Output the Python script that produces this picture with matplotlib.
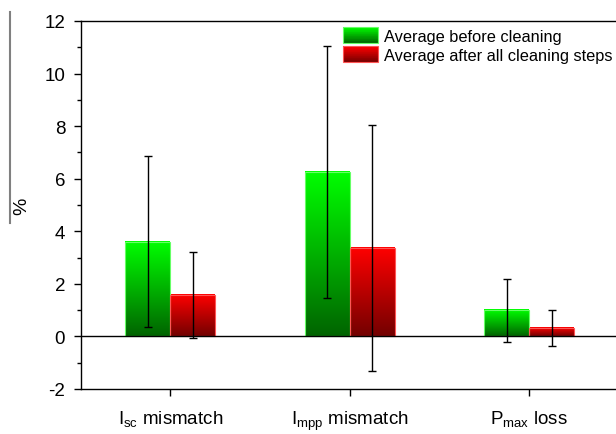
import matplotlib
matplotlib.use('Agg')
import matplotlib.pyplot as plt
import numpy as np
from matplotlib.lines import Line2D
from matplotlib.patches import Rectangle
from matplotlib.legend_handler import HandlerBase

plt.rcParams['font.family'] = ['Liberation Sans', 'DejaVu Sans']
plt.rcParams['mathtext.default'] = 'regular'
plt.rcParams['axes.unicode_minus'] = False

# data
categories = [r'I$_{sc}$ mismatch', r'I$_{mpp}$ mismatch', r'P$_{max}$ loss']
before = [3.61, 6.27, 1.00]
before_err = [3.26, 4.79, 1.20]
after = [1.57, 3.36, 0.32]
after_err = [1.64, 4.68, 0.70]
series_names = ['Average before cleaning', 'Average after all cleaning steps']

green_top, green_bot = np.array([0, 255, 0]) / 255, np.array([0, 100, 0]) / 255
red_top, red_bot = np.array([255, 0, 0]) / 255, np.array([115, 0, 0]) / 255


def grad_img(top, bot, n=100):
    t = np.linspace(0, 1, n)[:, None]
    col = top[None, :] * (1 - t) + bot[None, :] * t
    return col[:, None, :]


class GradHandler(HandlerBase):
    def __init__(self, top, bot, edge):
        super().__init__()
        self.top, self.bot, self.edge = top, bot, edge

    def create_artists(self, legend, orig_handle, xdescent, ydescent,
                       width, height, fontsize, trans):
        arts = []
        n = 24
        h = height / n
        for i in range(n):
            t = i / (n - 1)
            c = self.bot * (1 - t) + self.top * t
            arts.append(Rectangle((-xdescent, -ydescent + i * h), width, h * 1.05,
                                  facecolor=c, edgecolor='none', transform=trans))
        arts.append(Rectangle((-xdescent, -ydescent), width, height, facecolor='none',
                              edgecolor=self.edge, lw=0.8, transform=trans))
        return arts


fig = plt.figure(figsize=(6.16, 4.35), dpi=100)
ax = fig.add_axes([80.5 / 616, 45 / 435, 538.5 / 616, 368 / 435])

x = np.arange(1, len(categories) + 1)
w = 0.25
b1 = ax.bar(x - w / 2, before, w, facecolor='none', edgecolor='#66ff66', lw=0.8, zorder=3)
b2 = ax.bar(x + w / 2, after, w, facecolor='none', edgecolor='#ff5555', lw=0.8, zorder=3)

for bars, top, bot in [(b1, green_top, green_bot), (b2, red_top, red_bot)]:
    img = grad_img(top, bot)
    for p in bars.patches:
        x0, y0 = p.get_x(), p.get_y()
        ax.imshow(img, extent=[x0, x0 + p.get_width(), y0, y0 + p.get_height()],
                  aspect='auto', interpolation='bilinear', zorder=2)

ax.errorbar(x - w / 2, before, yerr=before_err, fmt='none', ecolor='k',
            elinewidth=1, capsize=3, capthick=1, zorder=4)
ax.errorbar(x + w / 2, after, yerr=after_err, fmt='none', ecolor='k',
            elinewidth=1, capsize=3, capthick=1, zorder=4)

ax.axhline(0, color='k', lw=1, zorder=5)

ax.set_xlim(0.5, 3.5)
ax.set_ylim(-2, 12)
ax.set_yticks(np.arange(-2, 13, 2))
ax.set_yticks(np.arange(-1, 12, 2), minor=True)
ax.set_xticks(x)
ax.set_xticklabels(categories)
ax.tick_params(axis='both', which='major', direction='out', length=5, width=1,
               labelsize=13.5)
ax.tick_params(axis='y', which='minor', direction='out', length=3, width=1)
ax.tick_params(axis='x', pad=9)
ax.tick_params(axis='y', pad=6)
for s in ax.spines.values():
    s.set_linewidth(1)

ax.set_ylabel('%', fontsize=14, labelpad=10)

# stray gray line beside the y label
fig.add_artist(Line2D([9.5 / 616, 9.5 / 616], [1 - 13 / 435, 1 - 224 / 435],
                      transform=fig.transFigure, color='gray', lw=1.5))

h1 = Rectangle((0, 0), 1, 1)
h2 = Rectangle((0, 0), 1, 1)
ax.legend([h1, h2], series_names, loc='upper left',
          bbox_to_anchor=(343 / 616, 1 - 28 / 435), bbox_transform=fig.transFigure,
          frameon=False, fontsize=11.8, borderpad=0, borderaxespad=0,
          handlelength=2.15, handleheight=1.15, labelspacing=0.15, handletextpad=0.33,
          handler_map={h1: GradHandler(green_top, green_bot, '#66ff66'),
                       h2: GradHandler(red_top, red_bot, '#ff5555')})

fig.savefig('out.png', dpi=100)
